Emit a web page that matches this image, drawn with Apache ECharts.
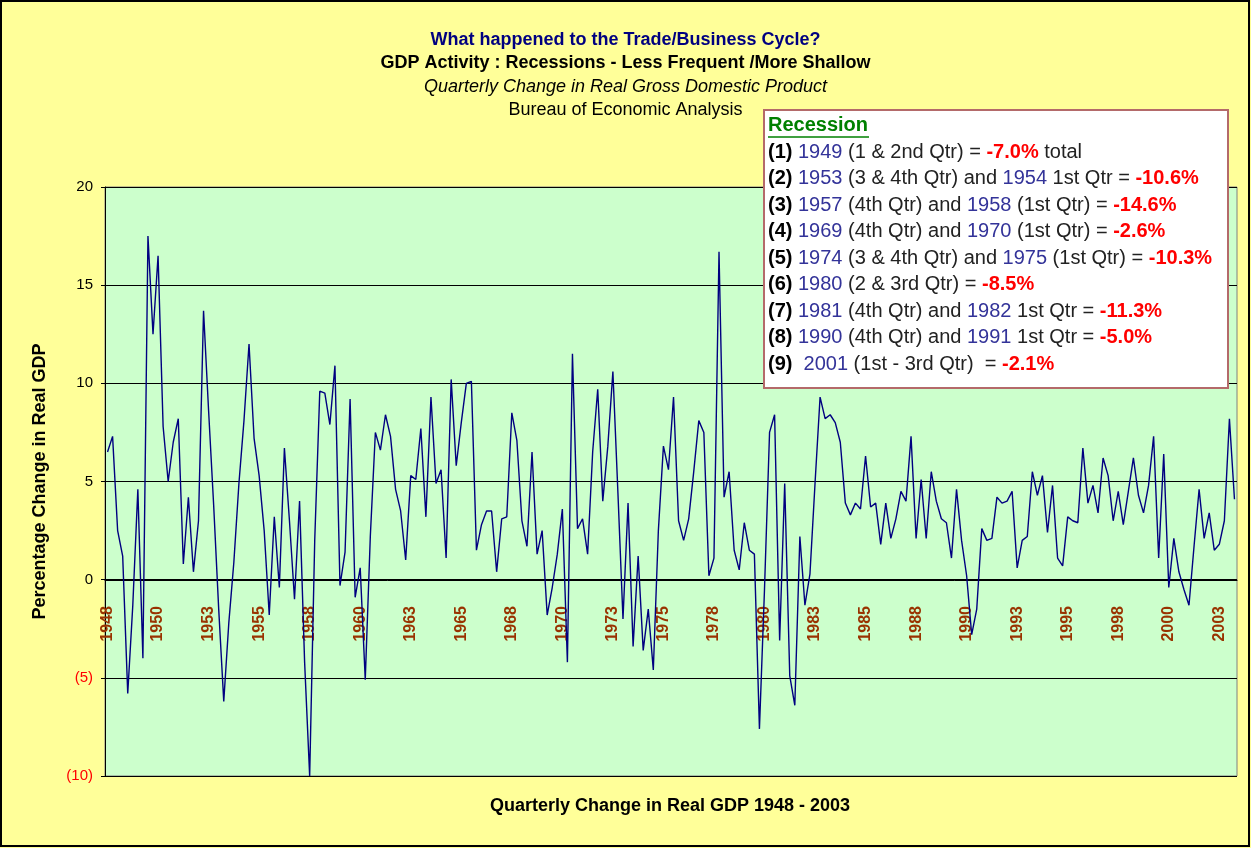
<!DOCTYPE html>
<html>
<head>
<meta charset="utf-8">
<title>Quarterly Change in Real GDP 1948 - 2003</title>
<script src="https://cdn.jsdelivr.net/npm/echarts@6/dist/echarts.min.js"></script>
<style>
    html, body { margin: 0; padding: 0; background: #ffff99; }
    #chart { width: 1251px; height: 848px; }
</style>
</head>
<body>
<div id="chart"></div>
<script>
    // years on the category axis, one category per quarter
    var firstYear = 1948;
    var lastYear = 2003;

    // quarterly % change in real GDP (one row per year)
    var gdpChange = [
        6.5, 7.3, 2.5, 1.2,      // 1948
        -5.8, -1.3, 4.6, -4.0,   // 1949
        17.5, 12.5, 16.5, 7.8,   // 1950
        5.0, 7.0, 8.2, 0.8,      // 1951
        4.2, 0.4, 3.0, 13.7,     // 1952
        8.6, 3.8, -1.5, -6.2,    // 1953
        -2.2, 0.9, 4.9, 8.1,     // 1954
        12.0, 7.2, 5.3, 2.5,     // 1955
        -1.8, 3.2, -0.4, 6.7,    // 1956
        3.0, -1.0, 4.0, -4.2,    // 1957
        -10.0, 2.0, 9.6, 9.5,    // 1958
        7.9, 10.9, -0.3, 1.4,    // 1959
        9.2, -0.9, 0.6, -5.1,    // 1960
        2.2, 7.5, 6.6, 8.4,      // 1961
        7.3, 4.6, 3.5, 1.0,      // 1962
        5.3, 5.1, 7.7, 3.2,      // 1963
        9.3, 4.9, 5.6, 1.1,      // 1964
        10.2, 5.8, 8.0, 10.0,    // 1965
        10.1, 1.5, 2.8, 3.5,     // 1966
        3.5, 0.4, 3.1, 3.2,      // 1967
        8.5, 7.1, 3.0, 1.7,      // 1968
        6.5, 1.3, 2.5, -1.8,     // 1969
        -0.4, 1.3, 3.6, -4.2,    // 1970
        11.5, 2.6, 3.1, 1.3,     // 1971
        6.5, 9.7, 4.0, 6.8,      // 1972
        10.6, 4.4, -2.0, 3.9,    // 1973
        -3.4, 1.2, -3.6, -1.5,   // 1974
        -4.6, 2.5, 6.8, 5.6,     // 1975
        9.3, 3.0, 2.0, 3.1,      // 1976
        5.5, 8.1, 7.5, 0.2,      // 1977
        1.1, 16.7, 4.2, 5.5,     // 1978
        1.5, 0.5, 2.9, 1.5,      // 1979
        1.3, -7.6, -0.5, 7.5,    // 1980
        8.4, -3.1, 4.9, -4.9,    // 1981
        -6.4, 2.2, -1.3, 0.3,    // 1982
        4.9, 9.3, 8.2, 8.4,      // 1983
        8.0, 7.0, 3.9, 3.3,      // 1984
        3.9, 3.6, 6.3, 3.7,      // 1985
        3.9, 1.8, 3.9, 2.1,      // 1986
        3.1, 4.5, 4.0, 7.3,      // 1987
        2.1, 5.1, 2.1, 5.5,      // 1988
        4.0, 3.1, 2.9, 1.1,      // 1989
        4.6, 2.0, 0.2, -2.8,     // 1990
        -1.5, 2.6, 2.0, 2.1,     // 1991
        4.2, 3.9, 4.0, 4.5,      // 1992
        0.6, 2.0, 2.2, 5.5,      // 1993
        4.3, 5.3, 2.4, 4.8,      // 1994
        1.1, 0.7, 3.2, 3.0,      // 1995
        2.9, 6.7, 3.9, 4.8,      // 1996
        3.4, 6.2, 5.3, 3.0,      // 1997
        4.5, 2.8, 4.5, 6.2,      // 1998
        4.3, 3.4, 4.8, 7.3,      // 1999
        1.1, 6.4, -0.4, 2.1,     // 2000
        0.4, -0.5, -1.3, 1.7,    // 2001
        4.6, 2.1, 3.4, 1.5,      // 2002
        1.8, 3.0, 8.2, 4.1       // 2003
    ];

    var titleLines = [
        'What happened to the Trade/Business Cycle?',
        'GDP Activity : Recessions - Less Frequent /More Shallow',
        'Quarterly Change in Real Gross Domestic Product',
        'Bureau of Economic Analysis'
    ];

    var recessionRows = [
        '{n|(1)} {y|1949} (1 & 2nd Qtr) = {p|-7.0%} total',
        '{n|(2)} {y|1953} (3 & 4th Qtr) and {y|1954} 1st Qtr = {p|-10.6%}',
        '{n|(3)} {y|1957} (4th Qtr) and {y|1958} (1st Qtr) = {p|-14.6%}',
        '{n|(4)} {y|1969} (4th Qtr) and {y|1970} (1st Qtr) = {p|-2.6%}',
        '{n|(5)} {y|1974} (3 & 4th Qtr) and {y|1975} (1st Qtr) = {p|-10.3%}',
        '{n|(6)} {y|1980} (2 & 3rd Qtr) = {p|-8.5%}',
        '{n|(7)} {y|1981} (4th Qtr) and {y|1982} 1st Qtr = {p|-11.3%}',
        '{n|(8)} {y|1990} (4th Qtr) and {y|1991} 1st Qtr = {p|-5.0%}',
        '{n|(9)}  {y|2001} (1st - 3rd Qtr)  = {p|-2.1%}'
    ];

    var quarters = [];
    for (var yr = firstYear; yr <= lastYear; yr++) {
        for (var q = 1; q <= 4; q++) {
            quarters.push(yr + ' Q' + q);
        }
    }

    var font = 'Liberation Sans';

    var titles = [];
    var titleStyles = [
        { color: '#000080', fontWeight: 'bold', fontStyle: 'normal', top: 31 },
        { color: '#000000', fontWeight: 'bold', fontStyle: 'normal', top: 54 },
        { color: '#000000', fontWeight: 'normal', fontStyle: 'italic', top: 78 },
        { color: '#000000', fontWeight: 'normal', fontStyle: 'normal', top: 101 }
    ];
    for (var i = 0; i < titleLines.length; i++) {
        titles.push({
            text: titleLines[i],
            left: 'center',
            top: titleStyles[i].top,
            padding: 0,
            textStyle: {
                color: titleStyles[i].color,
                fontWeight: titleStyles[i].fontWeight,
                fontStyle: titleStyles[i].fontStyle,
                fontSize: 18,
                fontFamily: font
            }
        });
    }

    var graphics = [
        {
            type: 'rect',
            z: 100,
            silent: true,
            shape: { x: 1, y: 1, width: 1248, height: 845 },
            style: { fill: 'none', stroke: '#000', lineWidth: 2 }
        },
        {
            type: 'rect',
            z: 50,
            shape: { x: 764, y: 110, width: 464, height: 278 },
            style: { fill: '#ffffff', stroke: '#b46a6a', lineWidth: 2 }
        },
        {
            type: 'text',
            z: 51,
            x: 768,
            y: 125,
            style: {
                text: 'Recession',
                fill: '#008000',
                font: 'bold 20px ' + font,
                verticalAlign: 'middle'
            }
        },
        {
            type: 'line',
            z: 51,
            shape: { x1: 768, y1: 137, x2: 869, y2: 137 },
            style: { stroke: '#008000', lineWidth: 1.5 }
        },
        {
            type: 'text',
            x: 670,
            y: 806,
            style: {
                text: 'Quarterly Change in Real GDP 1948 - 2003',
                fill: '#000',
                font: 'bold 18px ' + font,
                align: 'center',
                verticalAlign: 'middle'
            }
        }
    ];

    for (var r = 0; r < recessionRows.length; r++) {
        graphics.push({
            type: 'text',
            z: 51,
            x: 768,
            y: 152 + r * 26.5,
            style: {
                text: recessionRows[r],
                fill: '#222',
                font: '20px ' + font,
                verticalAlign: 'middle',
                rich: {
                    n: { fill: '#000', fontWeight: 'bold', fontSize: 20, fontFamily: font },
                    y: { fill: '#333399', fontSize: 20, fontFamily: font },
                    p: { fill: '#ff0000', fontWeight: 'bold', fontSize: 20, fontFamily: font }
                }
            }
        });
    }

    var option = {
        backgroundColor: '#ffff99',
        animation: false,
        title: titles,
        graphic: graphics,
        grid: {
            left: 105,
            top: 187,
            right: 14,
            bottom: 72,
            show: true,
            backgroundColor: '#ccffcc',
            borderColor: '#808080',
            borderWidth: 1,
            outerBoundsMode: 'none'
        },
        xAxis: {
            type: 'category',
            data: quarters,
            boundaryGap: true,
            // the axis sits on the zero line (196px above the grid bottom)
            offset: -196,
            axisLine: { onZero: false, lineStyle: { color: '#000', width: 1 } },
            axisTick: { interval: 9, length: 4, lineStyle: { color: '#000' } },
            axisLabel: {
                interval: 9,
                rotate: 90,
                margin: 26,
                color: '#993300',
                fontWeight: 'bold',
                fontSize: 16,
                fontFamily: font,
                formatter: function (v) { return v.slice(0, 4); }
            },
            splitLine: { show: false }
        },
        yAxis: {
            type: 'value',
            min: -10,
            max: 20,
            interval: 5,
            name: 'Percentage Change in Real GDP',
            nameLocation: 'middle',
            nameRotate: 90,
            nameGap: 56,
            nameTextStyle: { color: '#000', fontWeight: 'bold', fontSize: 18, fontFamily: font },
            axisLine: { show: true, lineStyle: { color: '#000' } },
            axisTick: { show: true, length: 4, lineStyle: { color: '#000' } },
            axisLabel: {
                margin: 12,
                fontSize: 15,
                fontFamily: font,
                color: function (v) { return v < 0 ? '#ff0000' : '#000000'; },
                formatter: function (v) { return v < 0 ? '(' + (-v) + ')' : String(v); }
            },
            splitLine: { show: true, lineStyle: { color: '#000', width: 1 } }
        },
        series: [
            {
                type: 'line',
                data: gdpChange,
                symbol: 'none',
                lineStyle: { color: '#000080', width: 1.4 }
            }
        ]
    };

    var myChart = echarts.init(document.getElementById('chart'));
    myChart.setOption(option);
</script>
</body>
</html>
